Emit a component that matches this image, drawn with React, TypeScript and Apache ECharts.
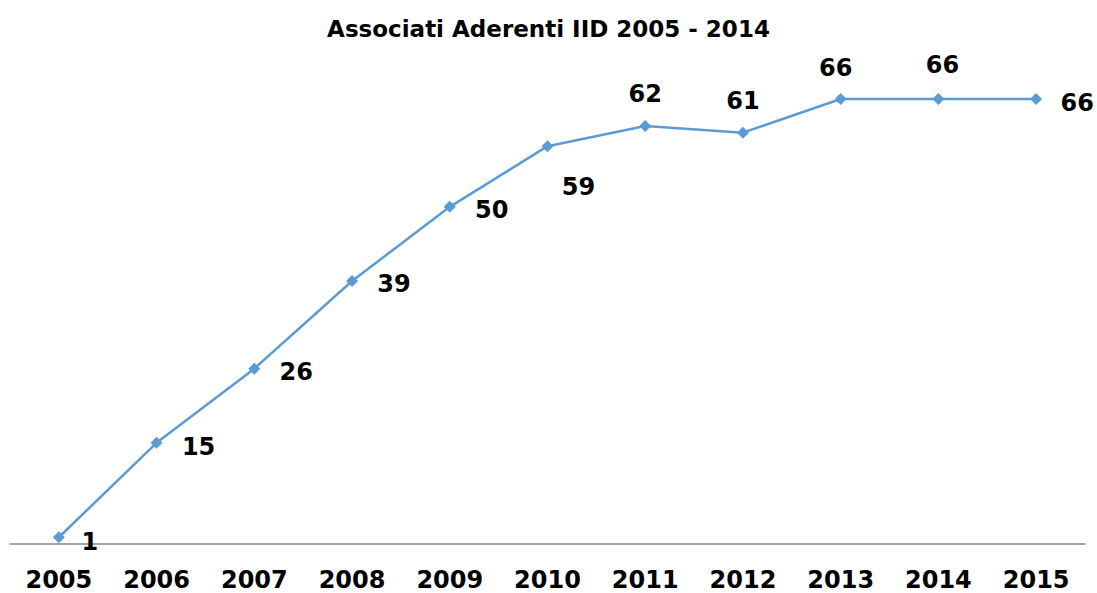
import React, { useEffect, useRef } from "react";
import * as echarts from "echarts";

const years = ["2005", "2006", "2007", "2008", "2009", "2010", "2011", "2012", "2013", "2014", "2015"];
const members = [1, 15, 26, 39, 50, 59, 62, 61, 66, 66, 66];
const labelOffsets: [number, number][] = [
  [31, 5], [42, 4], [42, 3], [42, 3], [42, 3], [31, 41], [0, -32], [0, -32], [-5, -31], [4, -34], [41, 4],
];

export default function App() {
  const ref = useRef<HTMLDivElement>(null);
  useEffect(() => {
    const chart = echarts.init(ref.current!, null, { renderer: "svg" });
    const font = "'DejaVu Sans', Verdana, Tahoma, sans-serif";
    chart.setOption({
      animation: false,
      backgroundColor: "#ffffff",
      title: {
        text: "Associati Aderenti IID 2005 - 2014",
        left: "center",
        top: 12,
        textStyle: { fontFamily: font, fontWeight: "bold", fontSize: 23, color: "#000" },
      },
      grid: { left: 10, right: 12, top: 72, bottom: 49 },
      xAxis: {
        type: "category",
        data: years,
        boundaryGap: true,
        axisLine: { lineStyle: { color: "#868686", width: 1.5 } },
        axisTick: { show: false },
        axisLabel: {
          fontFamily: font,
          fontWeight: "bold",
          fontSize: 24,
          lineHeight: 24,
          color: "#000",
          margin: 24,
        },
      },
      yAxis: {
        type: "value",
        min: 0,
        max: 70,
        show: false,
        splitLine: { show: false },
      },
      series: [
        {
          type: "line",
          data: members.map((v, i) => ({
            value: v,
            label: {
              show: true,
              position: "inside",
              offset: labelOffsets[i],
              fontFamily: font,
              fontWeight: "bold",
              fontSize: 24,
              color: "#000",
            },
          })),
          symbol: "diamond",
          symbolSize: 12,
          lineStyle: { color: "#5B9BD5", width: 2.5 },
          itemStyle: { color: "#5B9BD5" },
        },
      ],
    });
    return () => chart.dispose();
  }, []);
  return <div ref={ref} style={{ width: 1097, height: 593, position: "absolute", left: 0, top: 0 }} />;
}
